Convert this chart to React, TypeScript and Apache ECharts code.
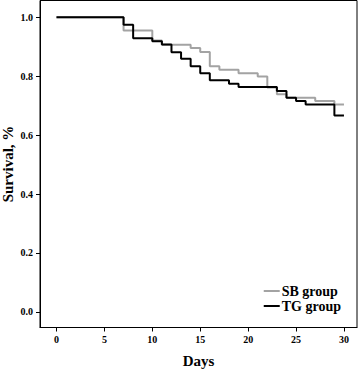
import React, { useEffect, useRef } from "react";
import * as echarts from "echarts";

const seriesNames = ["SB group", "TG group"];
const sbDays = [0, 7, 10, 11, 14, 15, 16, 17, 19, 21, 22, 23, 24, 27, 29, 30];
const sbSurvival = [1, 0.955, 0.921, 0.907, 0.896, 0.882, 0.834, 0.822, 0.81, 0.799, 0.762, 0.739, 0.727, 0.716, 0.704, 0.704];
const tgDays = [0, 7, 8, 10, 11, 12, 13, 14, 15, 16, 18, 19, 23, 24, 25, 26, 29, 30];
const tgSurvival = [1, 0.975, 0.929, 0.919, 0.908, 0.881, 0.859, 0.834, 0.81, 0.786, 0.774, 0.763, 0.75, 0.727, 0.716, 0.704, 0.667, 0.667];
const xTicks = [0, 5, 10, 15, 20, 25, 30];
const yTicks = [0, 0.2, 0.4, 0.6, 0.8, 1.0];

const FONT = "'Liberation Serif', 'Times New Roman', serif";

export default function App() {
  const ref = useRef<HTMLDivElement>(null);
  useEffect(() => {
    if (!ref.current) return;
    const chart = echarts.init(ref.current, undefined, { renderer: "svg" });
    const sb = sbDays.map((d, i) => [d, sbSurvival[i]]);
    const tg = tgDays.map((d, i) => [d, tgSurvival[i]]);
    chart.setOption({
      animation: false,
      backgroundColor: "#fff",
      textStyle: { fontFamily: FONT },
      grid: {
        left: 40,
        right: 1,
        top: 0.5,
        bottom: 41.5,
        outerBoundsMode: "none",
        containLabel: false,
        show: true,
        borderColor: "#000",
        borderWidth: 1,
        backgroundColor: "transparent",
      },
      legend: {
        data: seriesNames,
        orient: "vertical",
        right: 17,
        top: 284,
        padding: 0,
        icon: "rect",
        itemWidth: 16,
        itemHeight: 2,
        itemGap: 1,
        textStyle: {
          fontFamily: FONT,
          fontWeight: "bold",
          fontSize: 14,
          lineHeight: 14,
          color: "#000",
          padding: [0, 0, 0, -3],
        },
      },
      xAxis: {
        type: "value",
        min: -1.72,
        max: 31.36,
        name: "Days",
        nameLocation: "middle",
        nameGap: 26,
        nameMoveOverlap: false,
        nameTextStyle: { fontFamily: FONT, fontWeight: "bold", fontSize: 15, color: "#000" },
        axisLine: { show: true, onZero: false, lineStyle: { color: "#000", width: 1 } },
        splitLine: { show: false },
        axisTick: { show: true, inside: false, length: 4, customValues: xTicks, lineStyle: { color: "#000" } },
        axisLabel: {
          customValues: xTicks,
          fontFamily: FONT,
          fontWeight: "bold",
          fontSize: 10,
          color: "#000",
          margin: 7,
        },
      },
      yAxis: {
        type: "value",
        min: -0.053,
        max: 1.057,
        name: "Survival, %",
        nameLocation: "middle",
        nameGap: 25,
        nameMoveOverlap: false,
        nameTextStyle: { fontFamily: FONT, fontWeight: "bold", fontSize: 15, color: "#000" },
        axisLine: { show: true, onZero: false, lineStyle: { color: "#000", width: 1 } },
        splitLine: { show: false },
        axisTick: { show: true, inside: false, length: 4, customValues: yTicks, lineStyle: { color: "#000" } },
        axisLabel: {
          customValues: yTicks,
          formatter: (v: number) => v.toFixed(1),
          fontFamily: FONT,
          fontWeight: "bold",
          fontSize: 10,
          color: "#000",
          margin: 7,
        },
      },
      series: [
        {
          name: seriesNames[0],
          type: "line",
          step: "end",
          data: sb,
          symbol: "none",
          color: "#a3a3a3",
          lineStyle: { color: "#a3a3a3", width: 2 },
        },
        {
          name: seriesNames[1],
          type: "line",
          step: "end",
          data: tg,
          symbol: "none",
          color: "#000",
          lineStyle: { color: "#000", width: 2 },
        },
      ],
    });
    return () => chart.dispose();
  }, []);
  return <div ref={ref} style={{ width: 358, height: 369, position: "fixed", left: 0, top: 0 }} />;
}
